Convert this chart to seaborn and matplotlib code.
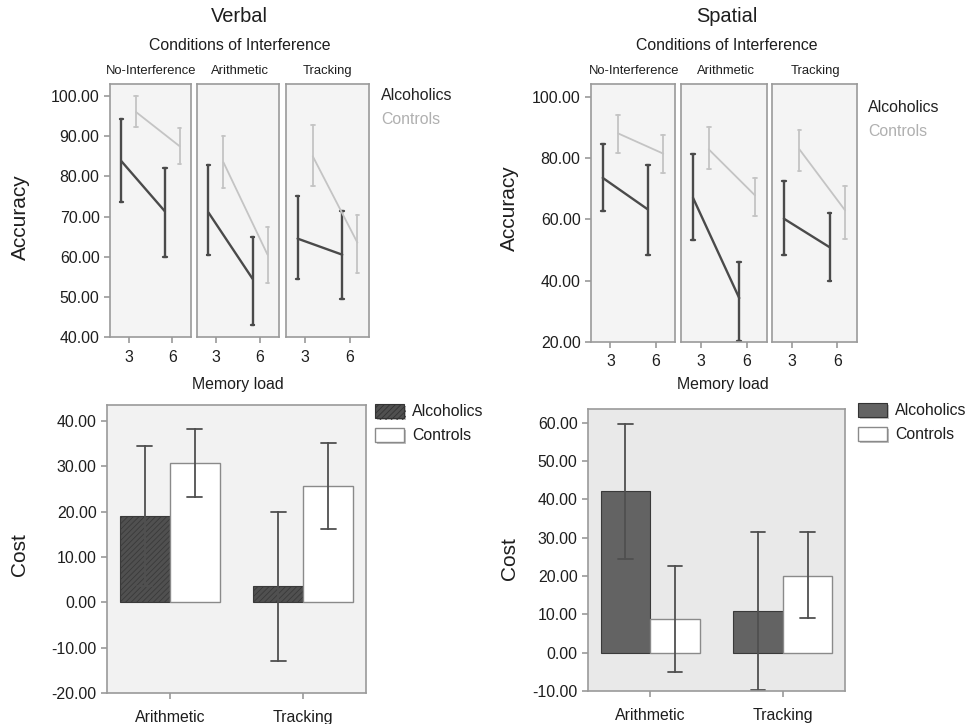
import numpy as np
import pandas as pd
import seaborn as sns
import matplotlib.pyplot as plt
import matplotlib.colors as mcolors
import matplotlib.patheffects as pe
from matplotlib.patches import Patch
from matplotlib.ticker import FormatStrFormatter

# ---------------- data ----------------
groups = ["Alcoholics", "Controls"]
conditions = ["No-Interference", "Arithmetic", "Tracking"]
loads = ["3", "6"]
cost_conditions = ["Arithmetic", "Tracking"]

# accuracy, order: (No-Int 3, No-Int 6, Arith 3, Arith 6, Track 3, Track 6)
verbal_alc_mean = [83.8, 71.3, 71.0, 54.5, 64.5, 60.5]
verbal_alc_lo = [73.7, 60.0, 60.3, 43.0, 54.5, 49.5]
verbal_alc_hi = [94.3, 82.0, 82.8, 65.0, 75.0, 71.5]
verbal_ctl_mean = [96.0, 87.5, 83.5, 60.5, 85.0, 63.5]
verbal_ctl_lo = [92.3, 83.0, 77.0, 53.5, 77.5, 56.0]
verbal_ctl_hi = [100.0, 92.0, 90.0, 67.5, 92.7, 70.5]

spatial_alc_mean = [73.5, 63.2, 67.0, 34.3, 60.2, 50.9]
spatial_alc_lo = [62.7, 48.4, 53.4, 20.2, 48.2, 39.8]
spatial_alc_hi = [84.7, 77.8, 81.4, 46.0, 72.5, 62.2]
spatial_ctl_mean = [88.0, 81.4, 82.8, 67.8, 82.8, 62.9]
spatial_ctl_lo = [81.7, 75.1, 76.3, 61.1, 75.8, 53.5]
spatial_ctl_hi = [94.0, 87.6, 90.1, 73.6, 89.0, 70.7]

# cost, order: (Arithmetic, Tracking)
verbal_cost_alc = [19.0, 3.5]
verbal_cost_alc_lo = [3.5, -12.9]
verbal_cost_alc_hi = [34.4, 19.9]
verbal_cost_ctl = [30.8, 25.6]
verbal_cost_ctl_lo = [23.3, 16.1]
verbal_cost_ctl_hi = [38.2, 35.1]

spatial_cost_alc = [42.2, 10.9]
spatial_cost_alc_lo = [24.4, -9.8]
spatial_cost_alc_hi = [59.7, 31.5]
spatial_cost_ctl = [8.8, 20.1]
spatial_cost_ctl_lo = [-5.1, 9.0]
spatial_cost_ctl_hi = [22.7, 31.4]

ALC = "#4a4a4a"
CTL = "#c4c4c4"
SPINE = "#9a9a9a"
TXT = "#1e1e1e"


def accuracy_frame(alc, alc_lo, alc_hi, ctl, ctl_lo, ctl_hi):
    # three rows per point (lo, mean, hi): median = mean, 0-100 pi = CI
    rows = []
    i = 0
    for cond in conditions:
        for load in loads:
            for g, m, lo, hi in [("Alcoholics", alc, alc_lo, alc_hi),
                                 ("Controls", ctl, ctl_lo, ctl_hi)]:
                for v in (lo[i], m[i], hi[i]):
                    rows.append({"cond": cond, "load": load, "group": g, "acc": v})
            i += 1
    return pd.DataFrame(rows)


def cost_frame(alc, alc_lo, alc_hi, ctl, ctl_lo, ctl_hi):
    rows = []
    for i, cond in enumerate(cost_conditions):
        for g, m, lo, hi in [("Alcoholics", alc, alc_lo, alc_hi),
                             ("Controls", ctl, ctl_lo, ctl_hi)]:
            for v in (lo[i], m[i], hi[i]):
                rows.append({"cond": cond, "group": g, "cost": v})
    return pd.DataFrame(rows)


sns.set_style("white")
plt.rcParams["font.family"] = ["Liberation Sans", "DejaVu Sans"]
plt.rcParams["hatch.linewidth"] = 0.6

W, H = 968, 724
fig = plt.figure(figsize=(W / 100, H / 100), dpi=100)


def px_rect(x0, y0, x1, y1):
    return [x0 / W, 1 - y1 / H, (x1 - x0) / W, (y1 - y0) / H]


def style_axis(ax, face):
    ax.set_facecolor(face)
    for s in ax.spines.values():
        s.set_visible(True)
        s.set_color(SPINE)
        s.set_linewidth(1.2)
    ax.tick_params(axis="both", direction="out", length=4, width=1.2,
                   color=SPINE, labelsize=11.4, labelcolor=TXT,
                   bottom=True, left=True, top=False, right=False)


def accuracy_block(df, panel_px, ylim, yticks):
    axes = []
    for k, cond in enumerate(conditions):
        x0, x1, y0, y1 = panel_px[k]
        ax = fig.add_axes(px_rect(x0, y0, x1, y1))
        sub = df[df["cond"] == cond]
        sns.pointplot(data=sub, x="load", y="acc", hue="group", order=loads,
                      hue_order=groups, palette={"Alcoholics": ALC, "Controls": CTL},
                      estimator="median", errorbar=("pi", 100), dodge=0.34,
                      markers="", capsize=0.08, linewidth=1.5, legend=False, ax=ax)
        for ln in ax.lines:
            if mcolors.to_hex(ln.get_color()) == ALC:
                ln.set_linewidth(1.7)
            else:
                ln.set_linewidth(1.3)
        style_axis(ax, "#f4f4f4")
        ax.set_xlim(-0.43, 1.43)
        ax.set_ylim(*ylim)
        ax.set_xlabel("")
        ax.set_ylabel("")
        if k == 0:
            ax.set_yticks(yticks)
            ax.yaxis.set_major_formatter(FormatStrFormatter("%.2f"))
        else:
            ax.set_yticks([])
        ax.tick_params(axis="x", pad=5)
        axes.append(ax)
    return axes


def cost_block(df, rect_px, face, ylim, yticks, hatch, alc_color):
    x0, y0, x1, y1 = rect_px
    ax = fig.add_axes(px_rect(x0, y0, x1, y1))
    sns.barplot(data=df, x="cond", y="cost", hue="group", order=cost_conditions,
                hue_order=groups, palette={"Alcoholics": alc_color, "Controls": "#ffffff"},
                estimator="median", errorbar=("pi", 100), capsize=0.22, width=0.75,
                saturation=1, err_kws={"color": "#505050", "linewidth": 1.3},
                legend=False, ax=ax)
    for bar in ax.containers[0]:
        bar.set_edgecolor("#3a3a3a")
        bar.set_linewidth(0.8)
        if hatch:
            bar.set_hatch(hatch)
    for bar in ax.containers[1]:
        bar.set_edgecolor("#8a8a8a")
        bar.set_linewidth(1.0)
    style_axis(ax, face)
    ax.set_xlim(-0.47, 1.47)
    ax.set_ylim(*ylim)
    ax.set_yticks(yticks)
    ax.yaxis.set_major_formatter(FormatStrFormatter("%.2f"))
    ax.set_xlabel("")
    ax.set_ylabel("")
    ax.tick_params(axis="x", pad=8)
    return ax


# ---------------- top: accuracy ----------------
verbal_acc = accuracy_frame(verbal_alc_mean, verbal_alc_lo, verbal_alc_hi,
                            verbal_ctl_mean, verbal_ctl_lo, verbal_ctl_hi)
spatial_acc = accuracy_frame(spatial_alc_mean, spatial_alc_lo, spatial_alc_hi,
                             spatial_ctl_mean, spatial_ctl_lo, spatial_ctl_hi)

accuracy_block(verbal_acc, [(110, 191, 84, 337), (197, 279, 84, 337), (286, 369, 84, 337)],
               (40, 103), [40, 50, 60, 70, 80, 90, 100])
accuracy_block(spatial_acc, [(591, 675, 84, 342), (681, 767, 84, 342), (772, 857, 84, 342)],
               (20, 104.1), [20, 40, 60, 80, 100])

# ---------------- bottom: cost ----------------
verbal_cost = cost_frame(verbal_cost_alc, verbal_cost_alc_lo, verbal_cost_alc_hi,
                         verbal_cost_ctl, verbal_cost_ctl_lo, verbal_cost_ctl_hi)
spatial_cost = cost_frame(spatial_cost_alc, spatial_cost_alc_lo, spatial_cost_alc_hi,
                          spatial_cost_ctl, spatial_cost_ctl_lo, spatial_cost_ctl_hi)

cost_block(verbal_cost, (107, 405, 366, 693), "#f2f2f2", (-20, 43.5),
           [-20, -10, 0, 10, 20, 30, 40], "//////", "#505050")
cost_block(spatial_cost, (588, 409, 845, 691), "#e9e9e9", (-10, 63.6),
           [-10, 0, 10, 20, 30, 40, 50, 60], None, "#636363")

# ---------------- texts ----------------
def ftext(x, y, s, **kw):
    fig.text(x / W, 1 - y / H, s, ha=kw.pop("ha", "center"), va=kw.pop("va", "center"), **kw)


for cx, cols in [(239.5, (151, 240, 328)), (726.7, (634, 725.5, 816))]:
    ftext(cx, 17, "Verbal" if cx < 484 else "Spatial", fontsize=14.4, color=TXT)
    ftext(cx, 45, "Conditions of Interference", fontsize=11.4, color=TXT)
    for c, name in zip(cols, conditions):
        ftext(c, 71, name, fontsize=9.4, color=TXT)

ftext(237.5, 384, "Memory load", fontsize=11.4, color=TXT)
ftext(722.5, 385, "Memory load", fontsize=11.4, color=TXT)

ftext(20, 217, "Accuracy", fontsize=15, rotation=90, color=TXT)
ftext(509, 208, "Accuracy", fontsize=15, rotation=90, color=TXT)
ftext(20, 555, "Cost", fontsize=15, rotation=90, color=TXT)
ftext(509, 559, "Cost", fontsize=15, rotation=90, color=TXT)

# top legends as coloured text
ftext(381, 95, "Alcoholics", fontsize=11.4, color="#222222", ha="left")
ftext(381, 120, "Controls", fontsize=11.4, color="#b0b0b0", ha="left")
ftext(868, 107, "Alcoholics", fontsize=11.4, color="#222222", ha="left")
ftext(868, 132, "Controls", fontsize=11.4, color="#b0b0b0", ha="left")

# bottom legends with shadowed patches
shadow = [pe.withSimplePatchShadow(offset=(1.5, -1.5), shadow_rgbFace="#777777", alpha=0.45)]
for lx, ly, alc_col, hatch in [(375, 404, "#505050", "//////"), (858, 403, "#636363", None)]:
    handles = [Patch(facecolor=alc_col, edgecolor="#333333", hatch=hatch, linewidth=0.8,
                     path_effects=shadow),
               Patch(facecolor="#ffffff", edgecolor="#8a8a8a", linewidth=1.0,
                     path_effects=shadow)]
    leg = fig.legend(handles, groups, loc="upper left", bbox_to_anchor=(lx / W, 1 - ly / H),
                     frameon=False, fontsize=11.4, handlelength=1.85, handleheight=0.95,
                     handletextpad=0.5, labelspacing=0.55, borderpad=0, borderaxespad=0)
    for t in leg.get_texts():
        t.set_color(TXT)

fig.savefig("out.png", dpi=100, facecolor="white")
